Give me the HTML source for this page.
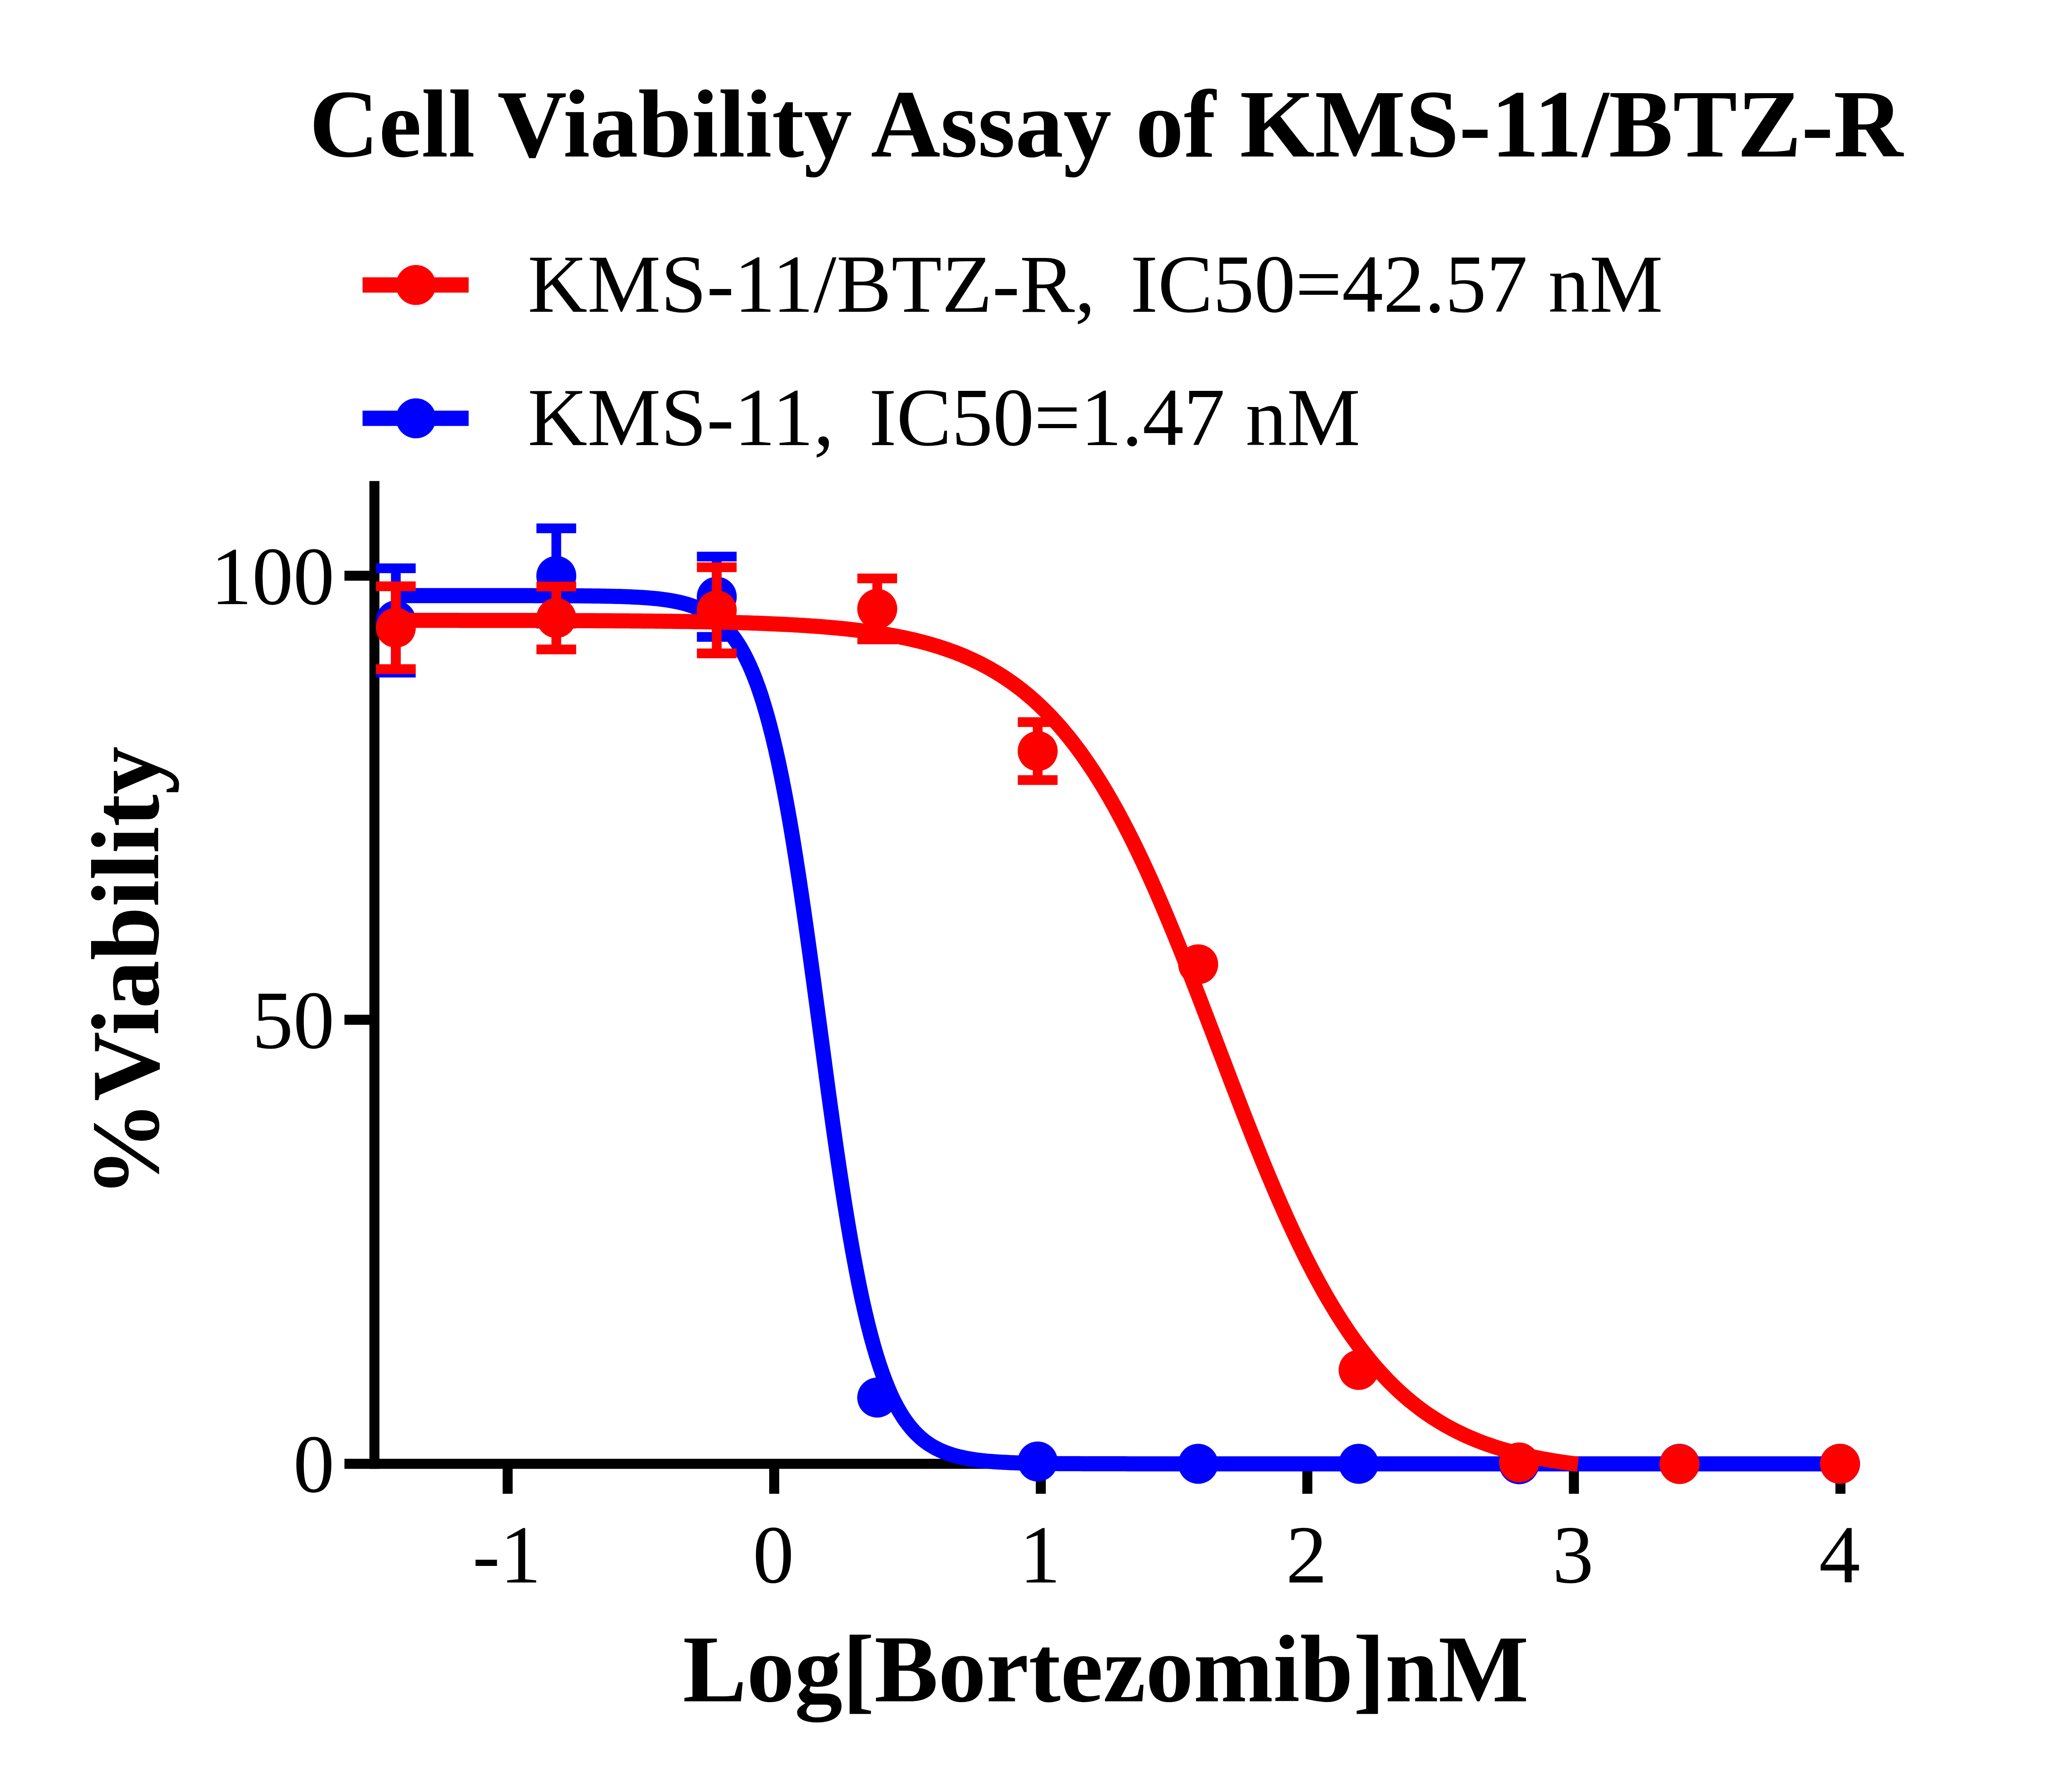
<!DOCTYPE html>
<html><head><meta charset="utf-8"><title>Cell Viability Assay of KMS-11/BTZ-R</title>
<style>html,body{margin:0;padding:0;background:#fff;width:5016px;height:4328px}svg{display:block}::-webkit-scrollbar{display:none}</style></head>
<body>
<svg width="5016" height="4328" viewBox="0 0 5016 4328">
<rect width="5016" height="4328" fill="#fff"/>
<g stroke="#000" stroke-width="24.2" fill="none">
<path d="M904.4,1161.8V3547.5"/>
<path d="M832,3535.4H4457.6"/>
<path d="M832,2462.9H893"/>
<path d="M832,1390.5H893"/>
<path d="M1226.2,3535.4V3607.8"/>
<path d="M1870.1,3535.4V3607.8"/>
<path d="M2514.0,3535.4V3607.8"/>
<path d="M3157.8,3535.4V3607.8"/>
<path d="M3801.7,3535.4V3607.8"/>
<path d="M4445.5,3535.4V3607.8"/>
</g>
<g font-family="'Liberation Serif', serif" font-size="199.3" fill="#000">
<text x="808" y="3603.4" text-anchor="end">0</text>
<text x="808" y="2530.9" text-anchor="end">50</text>
<text x="808" y="1458.5" text-anchor="end">100</text>
<text x="1224.2" y="3821.6" text-anchor="middle">-1</text>
<text x="1868.1" y="3821.6" text-anchor="middle">0</text>
<text x="2512.0" y="3821.6" text-anchor="middle">1</text>
<text x="3155.8" y="3821.6" text-anchor="middle">2</text>
<text x="3799.7" y="3821.6" text-anchor="middle">3</text>
<text x="4443.5" y="3821.6" text-anchor="middle">4</text>
</g>
<g fill="#0000ff" stroke="#0000ff">
<path d="M956.1,1372.6V1624.6M908.1,1372.6H1004.1M908.1,1624.6H1004.1" stroke-width="23.5" fill="none"/>
<circle cx="956.1" cy="1498.6" r="48.3" stroke="none"/>
<path d="M1343.7,1276.0V1506.0M1295.7,1276.0H1391.7M1295.7,1506.0H1391.7" stroke-width="23.5" fill="none"/>
<circle cx="1343.7" cy="1391.0" r="48.3" stroke="none"/>
<path d="M1731.3,1344.2V1538.2M1683.3,1344.2H1779.3M1683.3,1538.2H1779.3" stroke-width="23.5" fill="none"/>
<circle cx="1731.3" cy="1441.2" r="48.3" stroke="none"/>
<circle cx="2118.9" cy="3375.4" r="48.3" stroke="none"/>
<circle cx="2506.5" cy="3529.8" r="48.3" stroke="none"/>
<circle cx="2894.1" cy="3535.4" r="48.3" stroke="none"/>
<circle cx="3281.7" cy="3535.4" r="48.3" stroke="none"/>
<circle cx="3669.3" cy="3536.4" r="48.3" stroke="none"/>
<circle cx="4056.9" cy="3535.4" r="48.3" stroke="none"/>
<circle cx="4444.5" cy="3535.4" r="48.3" stroke="none"/>
<path d="M957.1,1438.5 L964.1,1438.5 L971.1,1438.5 L978.1,1438.5 L985.1,1438.5 L992.1,1438.5 L999.1,1438.5 L1006.0,1438.5 L1013.0,1438.5 L1020.0,1438.5 L1027.0,1438.5 L1034.0,1438.5 L1041.0,1438.5 L1048.0,1438.5 L1055.0,1438.5 L1062.0,1438.5 L1069.0,1438.6 L1076.0,1438.6 L1082.9,1438.6 L1089.9,1438.6 L1096.9,1438.6 L1103.9,1438.6 L1110.9,1438.6 L1117.9,1438.6 L1124.9,1438.6 L1131.9,1438.6 L1138.9,1438.6 L1145.9,1438.6 L1152.9,1438.6 L1159.8,1438.6 L1166.8,1438.6 L1173.8,1438.6 L1180.8,1438.6 L1187.8,1438.6 L1194.8,1438.6 L1201.8,1438.6 L1208.8,1438.6 L1215.8,1438.6 L1222.8,1438.6 L1229.7,1438.6 L1236.7,1438.6 L1243.7,1438.6 L1250.7,1438.6 L1257.7,1438.6 L1264.7,1438.6 L1271.7,1438.6 L1278.7,1438.6 L1285.7,1438.6 L1292.7,1438.7 L1299.7,1438.7 L1306.6,1438.7 L1313.6,1438.7 L1320.6,1438.7 L1327.6,1438.7 L1334.6,1438.7 L1341.6,1438.8 L1348.6,1438.8 L1355.6,1438.8 L1362.6,1438.8 L1369.6,1438.9 L1376.6,1438.9 L1383.5,1439.0 L1390.5,1439.0 L1397.5,1439.0 L1404.5,1439.1 L1411.5,1439.2 L1418.5,1439.2 L1425.5,1439.3 L1432.5,1439.4 L1439.5,1439.5 L1446.5,1439.5 L1453.5,1439.7 L1460.4,1439.8 L1467.4,1439.9 L1474.4,1440.0 L1481.4,1440.2 L1488.4,1440.4 L1495.4,1440.6 L1502.4,1440.8 L1509.4,1441.0 L1516.4,1441.3 L1523.4,1441.6 L1530.4,1441.9 L1537.3,1442.2 L1544.3,1442.6 L1551.3,1443.0 L1558.3,1443.5 L1565.3,1444.0 L1572.3,1444.6 L1579.3,1445.2 L1586.3,1445.9 L1593.3,1446.7 L1600.3,1447.6 L1607.3,1448.5 L1614.2,1449.6 L1621.2,1450.7 L1628.2,1452.0 L1635.2,1453.4 L1642.2,1454.9 L1649.2,1456.6 L1656.2,1458.5 L1663.2,1460.6 L1670.2,1462.9 L1677.2,1465.4 L1684.2,1468.2 L1691.1,1471.3 L1698.1,1474.7 L1705.1,1478.4 L1712.1,1482.5 L1719.1,1487.0 L1726.1,1492.0 L1733.1,1497.4 L1740.1,1503.4 L1747.1,1510.0 L1754.1,1517.3 L1761.1,1525.2 L1768.0,1533.9 L1775.0,1543.4 L1782.0,1553.9 L1789.0,1565.2 L1796.0,1577.7 L1803.0,1591.3 L1810.0,1606.0 L1817.0,1622.1 L1824.0,1639.6 L1831.0,1658.5 L1838.0,1679.0 L1844.9,1701.1 L1851.9,1724.9 L1858.9,1750.6 L1865.9,1778.1 L1872.9,1807.5 L1879.9,1838.9 L1886.9,1872.3 L1893.9,1907.7 L1900.9,1945.1 L1907.9,1984.5 L1914.9,2025.9 L1921.8,2069.1 L1928.8,2114.0 L1935.8,2160.6 L1942.8,2208.6 L1949.8,2258.0 L1956.8,2308.4 L1963.8,2359.7 L1970.8,2411.6 L1977.8,2463.9 L1984.8,2516.3 L1991.8,2568.6 L1998.7,2620.5 L2005.7,2671.7 L2012.7,2722.0 L2019.7,2771.2 L2026.7,2819.1 L2033.7,2865.5 L2040.7,2910.2 L2047.7,2953.2 L2054.7,2994.3 L2061.7,3033.5 L2068.7,3070.6 L2075.6,3105.8 L2082.6,3139.0 L2089.6,3170.1 L2096.6,3199.3 L2103.6,3226.6 L2110.6,3252.0 L2117.6,3275.6 L2124.6,3297.5 L2131.6,3317.8 L2138.6,3336.6 L2145.6,3353.9 L2152.5,3369.8 L2159.5,3384.4 L2166.5,3397.8 L2173.5,3410.1 L2180.5,3421.4 L2187.5,3431.7 L2194.5,3441.1 L2201.5,3449.7 L2208.5,3457.6 L2215.5,3464.7 L2222.5,3471.3 L2229.4,3477.2 L2236.4,3482.6 L2243.4,3487.5 L2250.4,3492.0 L2257.4,3496.0 L2264.4,3499.7 L2271.4,3503.1 L2278.4,3506.1 L2285.4,3508.8 L2292.4,3511.3 L2299.3,3513.6 L2306.3,3515.7 L2313.3,3517.5 L2320.3,3519.2 L2327.3,3520.7 L2334.3,3522.1 L2341.3,3523.4 L2348.3,3524.5 L2355.3,3525.6 L2362.3,3526.5 L2369.3,3527.3 L2376.2,3528.1 L2383.2,3528.8 L2390.2,3529.4 L2397.2,3530.0 L2404.2,3530.5 L2411.2,3531.0 L2418.2,3531.4 L2425.2,3531.8 L2432.2,3532.1 L2439.2,3532.4 L2446.2,3532.7 L2453.1,3533.0 L2460.1,3533.2 L2467.1,3533.4 L2474.1,3533.6 L2481.1,3533.8 L2488.1,3533.9 L2495.1,3534.1 L2502.1,3534.2 L2509.1,3534.3 L2516.1,3534.4 L2523.1,3534.5 L2530.0,3534.6 L2537.0,3534.7 L2544.0,3534.7 L2551.0,3534.8 L2558.0,3534.9 L2565.0,3534.9 L2572.0,3535.0 L2579.0,3535.0 L2586.0,3535.0 L2593.0,3535.1 L2600.0,3535.1 L2606.9,3535.1 L2613.9,3535.2 L2620.9,3535.2 L2627.9,3535.2 L2634.9,3535.2 L2641.9,3535.2 L2648.9,3535.3 L2655.9,3535.3 L2662.9,3535.3 L2669.9,3535.3 L2676.9,3535.3 L2683.8,3535.3 L2690.8,3535.3 L2697.8,3535.3 L2704.8,3535.3 L2711.8,3535.3 L2718.8,3535.3 L2725.8,3535.4 L2732.8,3535.4 L2739.8,3535.4 L2746.8,3535.4 L2753.8,3535.4 L2760.7,3535.4 L2767.7,3535.4 L2774.7,3535.4 L2781.7,3535.4 L2788.7,3535.4 L2795.7,3535.4 L2802.7,3535.4 L2809.7,3535.4 L2816.7,3535.4 L2823.7,3535.4 L2830.7,3535.4 L2837.6,3535.4 L2844.6,3535.4 L2851.6,3535.4 L2858.6,3535.4 L2865.6,3535.4 L2872.6,3535.4 L2879.6,3535.4 L2886.6,3535.4 L2893.6,3535.4 L2900.6,3535.4 L2907.6,3535.4 L2914.5,3535.4 L2921.5,3535.4 L2928.5,3535.4 L2935.5,3535.4 L2942.5,3535.4 L2949.5,3535.4 L2956.5,3535.4 L2963.5,3535.4 L2970.5,3535.4 L2977.5,3535.4 L2984.5,3535.4 L2991.4,3535.4 L2998.4,3535.4 L3005.4,3535.4 L3012.4,3535.4 L3019.4,3535.4 L3026.4,3535.4 L3033.4,3535.4 L3040.4,3535.4 L3047.4,3535.4 L3054.4,3535.4 L3061.4,3535.4 L3068.3,3535.4 L3075.3,3535.4 L3082.3,3535.4 L3089.3,3535.4 L3096.3,3535.4 L3103.3,3535.4 L3110.3,3535.4 L3117.3,3535.4 L3124.3,3535.4 L3131.3,3535.4 L3138.3,3535.4 L3145.2,3535.4 L3152.2,3535.4 L3159.2,3535.4 L3166.2,3535.4 L3173.2,3535.4 L3180.2,3535.4 L3187.2,3535.4 L3194.2,3535.4 L3201.2,3535.4 L3208.2,3535.4 L3215.2,3535.4 L3222.1,3535.4 L3229.1,3535.4 L3236.1,3535.4 L3243.1,3535.4 L3250.1,3535.4 L3257.1,3535.4 L3264.1,3535.4 L3271.1,3535.4 L3278.1,3535.4 L3285.1,3535.4 L3292.0,3535.4 L3299.0,3535.4 L3306.0,3535.4 L3313.0,3535.4 L3320.0,3535.4 L3327.0,3535.4 L3334.0,3535.4 L3341.0,3535.4 L3348.0,3535.4 L3355.0,3535.4 L3362.0,3535.4 L3368.9,3535.4 L3375.9,3535.4 L3382.9,3535.4 L3389.9,3535.4 L3396.9,3535.4 L3403.9,3535.4 L3410.9,3535.4 L3417.9,3535.4 L3424.9,3535.4 L3431.9,3535.4 L3438.9,3535.4 L3445.8,3535.4 L3452.8,3535.4 L3459.8,3535.4 L3466.8,3535.4 L3473.8,3535.4 L3480.8,3535.4 L3487.8,3535.4 L3494.8,3535.4 L3501.8,3535.4 L3508.8,3535.4 L3515.8,3535.4 L3522.7,3535.4 L3529.7,3535.4 L3536.7,3535.4 L3543.7,3535.4 L3550.7,3535.4 L3557.7,3535.4 L3564.7,3535.4 L3571.7,3535.4 L3578.7,3535.4 L3585.7,3535.4 L3592.7,3535.4 L3599.6,3535.4 L3606.6,3535.4 L3613.6,3535.4 L3620.6,3535.4 L3627.6,3535.4 L3634.6,3535.4 L3641.6,3535.4 L3648.6,3535.4 L3655.6,3535.4 L3662.6,3535.4 L3669.6,3535.4 L3676.5,3535.4 L3683.5,3535.4 L3690.5,3535.4 L3697.5,3535.4 L3704.5,3535.4 L3711.5,3535.4 L3718.5,3535.4 L3725.5,3535.4 L3732.5,3535.4 L3739.5,3535.4 L3746.5,3535.4 L3753.4,3535.4 L3760.4,3535.4 L3767.4,3535.4 L3774.4,3535.4 L3781.4,3535.4 L3788.4,3535.4 L3795.4,3535.4 L3802.4,3535.4 L3809.4,3535.4 L3816.4,3535.4 L3823.4,3535.4 L3830.3,3535.4 L3837.3,3535.4 L3844.3,3535.4 L3851.3,3535.4 L3858.3,3535.4 L3865.3,3535.4 L3872.3,3535.4 L3879.3,3535.4 L3886.3,3535.4 L3893.3,3535.4 L3900.3,3535.4 L3907.2,3535.4 L3914.2,3535.4 L3921.2,3535.4 L3928.2,3535.4 L3935.2,3535.4 L3942.2,3535.4 L3949.2,3535.4 L3956.2,3535.4 L3963.2,3535.4 L3970.2,3535.4 L3977.2,3535.4 L3984.1,3535.4 L3991.1,3535.4 L3998.1,3535.4 L4005.1,3535.4 L4012.1,3535.4 L4019.1,3535.4 L4026.1,3535.4 L4033.1,3535.4 L4040.1,3535.4 L4047.1,3535.4 L4054.1,3535.4 L4061.0,3535.4 L4068.0,3535.4 L4075.0,3535.4 L4082.0,3535.4 L4089.0,3535.4 L4096.0,3535.4 L4103.0,3535.4 L4110.0,3535.4 L4117.0,3535.4 L4124.0,3535.4 L4131.0,3535.4 L4137.9,3535.4 L4144.9,3535.4 L4151.9,3535.4 L4158.9,3535.4 L4165.9,3535.4 L4172.9,3535.4 L4179.9,3535.4 L4186.9,3535.4 L4193.9,3535.4 L4200.9,3535.4 L4207.9,3535.4 L4214.8,3535.4 L4221.8,3535.4 L4228.8,3535.4 L4235.8,3535.4 L4242.8,3535.4 L4249.8,3535.4 L4256.8,3535.4 L4263.8,3535.4 L4270.8,3535.4 L4277.8,3535.4 L4284.8,3535.4 L4291.7,3535.4 L4298.7,3535.4 L4305.7,3535.4 L4312.7,3535.4 L4319.7,3535.4 L4326.7,3535.4 L4333.7,3535.4 L4340.7,3535.4 L4347.7,3535.4 L4354.7,3535.4 L4361.6,3535.4 L4368.6,3535.4 L4375.6,3535.4 L4382.6,3535.4 L4389.6,3535.4 L4396.6,3535.4 L4403.6,3535.4 L4410.6,3535.4 L4417.6,3535.4 L4424.6,3535.4 L4431.6,3535.4 L4438.5,3535.4 L4445.5,3535.4" fill="none" stroke-width="36.5" stroke-linejoin="round"/>
</g>

<g fill="#ff0000" stroke="#ff0000">
<path d="M956.1,1416.0V1616.0M908.1,1416.0H1004.1M908.1,1616.0H1004.1" stroke-width="23.5" fill="none"/>
<circle cx="956.1" cy="1516.0" r="48.3" stroke="none"/>
<path d="M1343.7,1416.6V1568.6M1295.7,1416.6H1391.7M1295.7,1568.6H1391.7" stroke-width="23.5" fill="none"/>
<circle cx="1343.7" cy="1492.6" r="48.3" stroke="none"/>
<path d="M1731.3,1370.0V1578.0M1683.3,1370.0H1779.3M1683.3,1578.0H1779.3" stroke-width="23.5" fill="none"/>
<circle cx="1731.3" cy="1474.0" r="48.3" stroke="none"/>
<path d="M2118.9,1396.9V1544.3M2070.9,1396.9H2166.9M2070.9,1544.3H2166.9" stroke-width="23.5" fill="none"/>
<circle cx="2118.9" cy="1470.6" r="48.3" stroke="none"/>
<path d="M2506.5,1744.0V1884.0M2458.5,1744.0H2554.5M2458.5,1884.0H2554.5" stroke-width="23.5" fill="none"/>
<circle cx="2506.5" cy="1814.0" r="48.3" stroke="none"/>
<circle cx="2894.1" cy="2329.0" r="48.3" stroke="none"/>
<circle cx="3281.7" cy="3308.7" r="48.3" stroke="none"/>
<circle cx="3669.3" cy="3532.0" r="48.3" stroke="none"/>
<circle cx="4056.9" cy="3535.9" r="48.3" stroke="none"/>
<circle cx="4444.5" cy="3535.4" r="48.3" stroke="none"/>
<path d="M957.1,1498.3 L962.8,1498.3 L968.5,1498.3 L974.3,1498.3 L980.0,1498.3 L985.7,1498.3 L991.4,1498.3 L997.1,1498.3 L1002.9,1498.3 L1008.6,1498.3 L1014.3,1498.3 L1020.0,1498.3 L1025.7,1498.3 L1031.5,1498.3 L1037.2,1498.3 L1042.9,1498.3 L1048.6,1498.3 L1054.3,1498.3 L1060.1,1498.3 L1065.8,1498.3 L1071.5,1498.3 L1077.2,1498.3 L1082.9,1498.3 L1088.7,1498.3 L1094.4,1498.3 L1100.1,1498.3 L1105.8,1498.3 L1111.5,1498.4 L1117.3,1498.4 L1123.0,1498.4 L1128.7,1498.4 L1134.4,1498.4 L1140.1,1498.4 L1145.9,1498.4 L1151.6,1498.4 L1157.3,1498.4 L1163.0,1498.4 L1168.7,1498.4 L1174.5,1498.4 L1180.2,1498.4 L1185.9,1498.4 L1191.6,1498.4 L1197.3,1498.5 L1203.1,1498.5 L1208.8,1498.5 L1214.5,1498.5 L1220.2,1498.5 L1225.9,1498.5 L1231.7,1498.5 L1237.4,1498.5 L1243.1,1498.5 L1248.8,1498.5 L1254.5,1498.5 L1260.3,1498.6 L1266.0,1498.6 L1271.7,1498.6 L1277.4,1498.6 L1283.1,1498.6 L1288.9,1498.6 L1294.6,1498.6 L1300.3,1498.6 L1306.0,1498.7 L1311.7,1498.7 L1317.5,1498.7 L1323.2,1498.7 L1328.9,1498.7 L1334.6,1498.7 L1340.3,1498.8 L1346.1,1498.8 L1351.8,1498.8 L1357.5,1498.8 L1363.2,1498.8 L1368.9,1498.8 L1374.7,1498.9 L1380.4,1498.9 L1386.1,1498.9 L1391.8,1498.9 L1397.5,1499.0 L1403.3,1499.0 L1409.0,1499.0 L1414.7,1499.0 L1420.4,1499.0 L1426.1,1499.1 L1431.9,1499.1 L1437.6,1499.1 L1443.3,1499.2 L1449.0,1499.2 L1454.7,1499.2 L1460.5,1499.2 L1466.2,1499.3 L1471.9,1499.3 L1477.6,1499.3 L1483.3,1499.4 L1489.1,1499.4 L1494.8,1499.5 L1500.5,1499.5 L1506.2,1499.5 L1511.9,1499.6 L1517.7,1499.6 L1523.4,1499.7 L1529.1,1499.7 L1534.8,1499.7 L1540.5,1499.8 L1546.3,1499.8 L1552.0,1499.9 L1557.7,1499.9 L1563.4,1500.0 L1569.1,1500.0 L1574.9,1500.1 L1580.6,1500.2 L1586.3,1500.2 L1592.0,1500.3 L1597.7,1500.3 L1603.5,1500.4 L1609.2,1500.5 L1614.9,1500.5 L1620.6,1500.6 L1626.3,1500.7 L1632.1,1500.7 L1637.8,1500.8 L1643.5,1500.9 L1649.2,1501.0 L1654.9,1501.1 L1660.7,1501.1 L1666.4,1501.2 L1672.1,1501.3 L1677.8,1501.4 L1683.5,1501.5 L1689.3,1501.6 L1695.0,1501.7 L1700.7,1501.8 L1706.4,1501.9 L1712.1,1502.0 L1717.9,1502.2 L1723.6,1502.3 L1729.3,1502.4 L1735.0,1502.5 L1740.7,1502.6 L1746.5,1502.8 L1752.2,1502.9 L1757.9,1503.1 L1763.6,1503.2 L1769.3,1503.3 L1775.1,1503.5 L1780.8,1503.7 L1786.5,1503.8 L1792.2,1504.0 L1797.9,1504.2 L1803.7,1504.3 L1809.4,1504.5 L1815.1,1504.7 L1820.8,1504.9 L1826.5,1505.1 L1832.3,1505.3 L1838.0,1505.5 L1843.7,1505.7 L1849.4,1505.9 L1855.1,1506.2 L1860.9,1506.4 L1866.6,1506.7 L1872.3,1506.9 L1878.0,1507.2 L1883.7,1507.4 L1889.5,1507.7 L1895.2,1508.0 L1900.9,1508.3 L1906.6,1508.6 L1912.3,1508.9 L1918.1,1509.2 L1923.8,1509.5 L1929.5,1509.9 L1935.2,1510.2 L1940.9,1510.5 L1946.6,1510.9 L1952.4,1511.3 L1958.1,1511.7 L1963.8,1512.1 L1969.5,1512.5 L1975.2,1512.9 L1981.0,1513.3 L1986.7,1513.8 L1992.4,1514.2 L1998.1,1514.7 L2003.8,1515.2 L2009.6,1515.7 L2015.3,1516.2 L2021.0,1516.7 L2026.7,1517.3 L2032.4,1517.8 L2038.2,1518.4 L2043.9,1519.0 L2049.6,1519.6 L2055.3,1520.3 L2061.0,1520.9 L2066.8,1521.6 L2072.5,1522.2 L2078.2,1523.0 L2083.9,1523.7 L2089.6,1524.4 L2095.4,1525.2 L2101.1,1526.0 L2106.8,1526.8 L2112.5,1527.6 L2118.2,1528.5 L2124.0,1529.4 L2129.7,1530.3 L2135.4,1531.2 L2141.1,1532.2 L2146.8,1533.2 L2152.6,1534.2 L2158.3,1535.2 L2164.0,1536.3 L2169.7,1537.4 L2175.4,1538.6 L2181.2,1539.7 L2186.9,1540.9 L2192.6,1542.2 L2198.3,1543.4 L2204.0,1544.8 L2209.8,1546.1 L2215.5,1547.5 L2221.2,1548.9 L2226.9,1550.4 L2232.6,1551.9 L2238.4,1553.4 L2244.1,1555.0 L2249.8,1556.7 L2255.5,1558.3 L2261.2,1560.1 L2267.0,1561.8 L2272.7,1563.7 L2278.4,1565.5 L2284.1,1567.5 L2289.8,1569.5 L2295.6,1571.5 L2301.3,1573.6 L2307.0,1575.7 L2312.7,1577.9 L2318.4,1580.2 L2324.2,1582.5 L2329.9,1584.9 L2335.6,1587.4 L2341.3,1589.9 L2347.0,1592.5 L2352.8,1595.2 L2358.5,1597.9 L2364.2,1600.7 L2369.9,1603.6 L2375.6,1606.6 L2381.4,1609.6 L2387.1,1612.7 L2392.8,1615.9 L2398.5,1619.2 L2404.2,1622.6 L2410.0,1626.0 L2415.7,1629.6 L2421.4,1633.2 L2427.1,1636.9 L2432.8,1640.7 L2438.6,1644.7 L2444.3,1648.7 L2450.0,1652.8 L2455.7,1657.0 L2461.4,1661.4 L2467.2,1665.8 L2472.9,1670.4 L2478.6,1675.0 L2484.3,1679.8 L2490.0,1684.7 L2495.8,1689.7 L2501.5,1694.8 L2507.2,1700.1 L2512.9,1705.5 L2518.6,1711.0 L2524.4,1716.6 L2530.1,1722.4 L2535.8,1728.3 L2541.5,1734.3 L2547.2,1740.5 L2553.0,1746.8 L2558.7,1753.2 L2564.4,1759.8 L2570.1,1766.6 L2575.8,1773.5 L2581.6,1780.5 L2587.3,1787.7 L2593.0,1795.0 L2598.7,1802.5 L2604.4,1810.2 L2610.2,1818.0 L2615.9,1825.9 L2621.6,1834.1 L2627.3,1842.3 L2633.0,1850.8 L2638.8,1859.4 L2644.5,1868.2 L2650.2,1877.1 L2655.9,1886.2 L2661.6,1895.5 L2667.4,1905.0 L2673.1,1914.6 L2678.8,1924.4 L2684.5,1934.3 L2690.2,1944.4 L2696.0,1954.7 L2701.7,1965.2 L2707.4,1975.8 L2713.1,1986.6 L2718.8,1997.6 L2724.6,2008.7 L2730.3,2020.0 L2736.0,2031.4 L2741.7,2043.1 L2747.4,2054.9 L2753.2,2066.8 L2758.9,2078.9 L2764.6,2091.1 L2770.3,2103.5 L2776.0,2116.1 L2781.8,2128.8 L2787.5,2141.7 L2793.2,2154.6 L2798.9,2167.8 L2804.6,2181.0 L2810.4,2194.4 L2816.1,2208.0 L2821.8,2221.6 L2827.5,2235.4 L2833.2,2249.2 L2839.0,2263.2 L2844.7,2277.3 L2850.4,2291.5 L2856.1,2305.8 L2861.8,2320.2 L2867.6,2334.7 L2873.3,2349.2 L2879.0,2363.9 L2884.7,2378.5 L2890.4,2393.3 L2896.2,2408.1 L2901.9,2423.0 L2907.6,2437.9 L2913.3,2452.8 L2919.0,2467.8 L2924.8,2482.8 L2930.5,2497.8 L2936.2,2512.9 L2941.9,2527.9 L2947.6,2543.0 L2953.4,2558.0 L2959.1,2573.0 L2964.8,2588.0 L2970.5,2603.0 L2976.2,2618.0 L2982.0,2632.9 L2987.7,2647.8 L2993.4,2662.6 L2999.1,2677.4 L3004.8,2692.1 L3010.6,2706.7 L3016.3,2721.3 L3022.0,2735.8 L3027.7,2750.2 L3033.4,2764.5 L3039.2,2778.7 L3044.9,2792.8 L3050.6,2806.8 L3056.3,2820.7 L3062.0,2834.5 L3067.8,2848.2 L3073.5,2861.7 L3079.2,2875.1 L3084.9,2888.4 L3090.6,2901.6 L3096.4,2914.6 L3102.1,2927.5 L3107.8,2940.2 L3113.5,2952.8 L3119.2,2965.2 L3124.9,2977.5 L3130.7,2989.6 L3136.4,3001.6 L3142.1,3013.4 L3147.8,3025.1 L3153.5,3036.5 L3159.3,3047.9 L3165.0,3059.0 L3170.7,3070.0 L3176.4,3080.8 L3182.1,3091.5 L3187.9,3102.0 L3193.6,3112.3 L3199.3,3122.5 L3205.0,3132.5 L3210.7,3142.3 L3216.5,3151.9 L3222.2,3161.4 L3227.9,3170.7 L3233.6,3179.8 L3239.3,3188.8 L3245.1,3197.6 L3250.8,3206.3 L3256.5,3214.8 L3262.2,3223.1 L3267.9,3231.2 L3273.7,3239.2 L3279.4,3247.1 L3285.1,3254.7 L3290.8,3262.3 L3296.5,3269.6 L3302.3,3276.8 L3308.0,3283.9 L3313.7,3290.8 L3319.4,3297.6 L3325.1,3304.2 L3330.9,3310.7 L3336.6,3317.0 L3342.3,3323.2 L3348.0,3329.3 L3353.7,3335.2 L3359.5,3341.0 L3365.2,3346.7 L3370.9,3352.2 L3376.6,3357.6 L3382.3,3362.9 L3388.1,3368.0 L3393.8,3373.0 L3399.5,3378.0 L3405.2,3382.8 L3410.9,3387.4 L3416.7,3392.0 L3422.4,3396.5 L3428.1,3400.8 L3433.8,3405.1 L3439.5,3409.2 L3445.3,3413.3 L3451.0,3417.2 L3456.7,3421.0 L3462.4,3424.8 L3468.1,3428.4 L3473.9,3432.0 L3479.6,3435.5 L3485.3,3438.9 L3491.0,3442.2 L3496.7,3445.4 L3502.5,3448.5 L3508.2,3451.6 L3513.9,3454.5 L3519.6,3457.4 L3525.3,3460.2 L3531.1,3463.0 L3536.8,3465.7 L3542.5,3468.3 L3548.2,3470.8 L3553.9,3473.3 L3559.7,3475.7 L3565.4,3478.0 L3571.1,3480.3 L3576.8,3482.5 L3582.5,3484.7 L3588.3,3486.8 L3594.0,3488.8 L3599.7,3490.8 L3605.4,3492.8 L3611.1,3494.6 L3616.9,3496.5 L3622.6,3498.3 L3628.3,3500.0 L3634.0,3501.7 L3639.7,3503.3 L3645.5,3504.9 L3651.2,3506.5 L3656.9,3508.0 L3662.6,3509.5 L3668.3,3510.9 L3674.1,3512.3 L3679.8,3513.7 L3685.5,3515.0 L3691.2,3516.3 L3696.9,3517.5 L3702.7,3518.7 L3708.4,3519.9 L3714.1,3521.0 L3719.8,3522.2 L3725.5,3523.2 L3731.3,3524.3 L3737.0,3525.3 L3742.7,3526.3 L3748.4,3527.3 L3754.1,3528.2 L3759.9,3529.1 L3765.6,3530.0 L3771.3,3530.9 L3777.0,3531.7 L3782.7,3532.5 L3788.5,3533.3 L3794.2,3534.1 L3799.9,3534.9 L3805.6,3535.6 L3811.3,3536.3" fill="none" stroke-width="36.5" stroke-linejoin="round"/>
</g>

<g><path d="M875.7,688.3H1132" stroke="#ff0000" stroke-width="37"/><circle cx="1004.6" cy="688.3" r="48.3" fill="#ff0000"/>
<path d="M875.7,1010.3H1132" stroke="#0000ff" stroke-width="37"/><circle cx="1004.6" cy="1010.3" r="48.3" fill="#0000ff"/></g>
<g font-family="'Liberation Serif', serif" font-size="199.3" fill="#000">
<text x="1274.8" y="753">KMS-11/BTZ-R, <tspan x="2730.5">IC50=42.57 nM</tspan></text>
<text x="1274.8" y="1075.3">KMS-11, <tspan x="2099.2">IC50=1.47 nM</tspan></text>
</g>
<g font-family="'Liberation Serif', serif" font-weight="bold" fill="#000">
<text id="title" x="747" y="378" font-size="232.5">Cell Viability Assay of KMS-11/BTZ-R</text>
<text id="xlab" x="1649.2" y="4109.2" font-size="231.4">Log[Bortezomib]nM</text>
<text id="ylab" transform="translate(382,2892) rotate(-90)" font-size="232.5">%Viability</text>
</g>
</svg>
</body></html>
